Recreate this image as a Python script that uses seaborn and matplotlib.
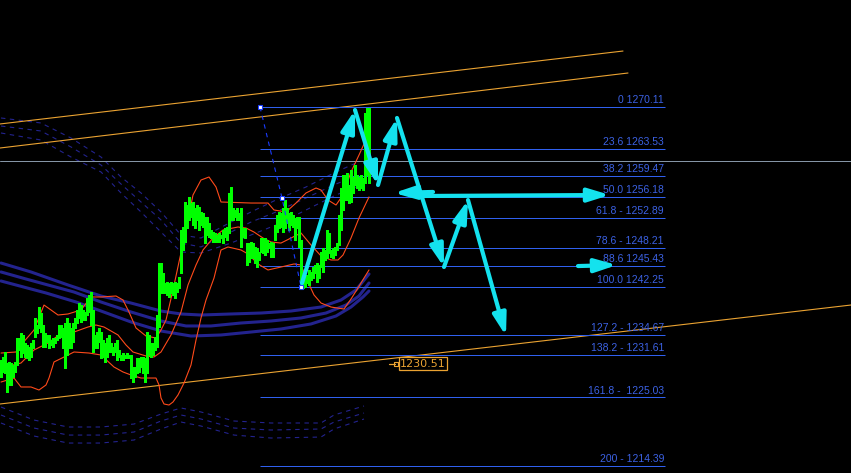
import numpy as np
import pandas as pd
import seaborn as sns
import matplotlib.pyplot as plt

# ---- price bars (high / low per bar) ----
highs = [1230.85, 1231.31, 1232.09, 1230.38, 1230.54, 1230.38, 1230.07, 1230.54, 1234.26, 1234.26,
         1235.03, 1234.73, 1233.49, 1233.18, 1232.87, 1233.49, 1233.95, 1237.37, 1236.28, 1239.08,
         1238.14, 1236.28, 1235.04, 1234.73, 1234.73, 1233.95, 1234.26, 1234.26, 1234.73, 1236.28,
         1236.28, 1235.82, 1236.59, 1237.37, 1236.59, 1235.82, 1236.59, 1237.37, 1238.61, 1239.69,
         1239.38, 1238.61, 1238.30, 1240.47, 1240.94, 1241.40, 1238.61, 1234.73, 1235.19, 1235.82,
         1235.19, 1233.95, 1233.49, 1234.26, 1234.73, 1233.49, 1232.87, 1233.49, 1233.95, 1232.40,
         1231.62, 1231.93, 1231.62, 1231.93, 1231.62,
         1231.62, 1229.76, 1229.76, 1231.16, 1231.16, 1231.31, 1231.31, 1231.16, 1235.19, 1234.73,
         1233.49, 1233.49, 1234.42, 1237.83, 1245.90, 1245.90, 1244.35, 1242.80, 1242.95, 1242.80,
         1242.95, 1242.80, 1242.95, 1242.80, 1243.73, 1251.02, 1251.49, 1255.37, 1254.90, 1256.15,
         1255.21, 1255.37, 1254.44, 1254.90, 1254.59, 1253.82, 1253.66, 1253.04, 1253.04, 1252.11,
         1251.02, 1250.71, 1250.56, 1250.25, 1250.56, 1250.25, 1251.02, 1251.33, 1251.49, 1256.77,
         1257.70, 1254.44, 1254.13, 1254.44, 1253.66, 1254.44, 1251.33, 1251.33, 1249.00, 1249.00,
         1249.16, 1249.00, 1248.39, 1248.23, 1247.61, 1249.78, 1249.78, 1249.78, 1249.47, 1249.00,
         1249.16, 1249.00, 1251.80, 1253.35, 1253.82, 1253.66, 1254.44, 1255.68, 1254.44, 1253.66,
         1253.82, 1253.35, 1252.89, 1253.04, 1253.04, 1249.47, 1243.26, 1243.73, 1244.04, 1244.82,
         1244.51, 1245.28, 1245.59, 1245.90, 1245.59, 1247.61, 1248.23, 1247.92, 1251.02, 1250.56,
         1247.92, 1248.23, 1248.39, 1249.00, 1253.35, 1257.54, 1259.56, 1259.56, 1259.87, 1258.01,
         1260.34, 1259.25, 1261.11, 1259.56, 1259.25, 1259.56, 1259.09, 1269.18, 1269.96, 1269.96]
lows = [1228.21, 1228.99, 1228.83, 1225.88, 1226.97, 1226.97, 1228.21, 1228.99, 1230.07, 1232.40,
        1231.31, 1231.93, 1231.31, 1231.16, 1230.85, 1231.31, 1232.71, 1234.42, 1235.04, 1235.82,
        1235.19, 1232.87, 1232.87, 1233.64, 1232.71, 1233.18, 1232.87, 1233.49, 1233.95, 1234.26,
        1234.42, 1232.71, 1229.61, 1231.62, 1232.71, 1232.71, 1233.64, 1235.82, 1236.59, 1237.37,
        1236.75, 1237.06, 1237.06, 1237.83, 1238.30, 1236.28, 1232.09, 1232.71, 1232.71, 1233.64,
        1231.16, 1231.31, 1230.54, 1231.31, 1232.09, 1232.09, 1231.62, 1232.09, 1230.85, 1231.31,
        1230.85, 1230.85, 1231.16, 1231.16, 1231.16,
        1228.05, 1227.43, 1228.21, 1228.83, 1228.99, 1229.76, 1228.83, 1227.43, 1228.83, 1231.62,
        1231.31, 1231.62, 1232.40, 1232.87, 1235.97, 1241.25, 1241.25, 1241.25, 1240.94, 1240.63,
        1241.25, 1240.94, 1240.47, 1241.40, 1242.02, 1244.35, 1247.92, 1249.16, 1251.33, 1252.58,
        1253.04, 1251.80, 1251.33, 1252.58, 1251.02, 1251.80, 1251.49, 1249.00, 1250.25, 1249.94,
        1249.78, 1249.16, 1249.16, 1249.16, 1249.16, 1249.78, 1249.00, 1249.94, 1249.47, 1250.56,
        1252.58, 1252.58, 1253.04, 1252.58, 1252.58, 1248.39, 1249.94, 1249.78, 1245.59, 1246.06,
        1246.68, 1246.68, 1245.90, 1245.28, 1246.37, 1247.61, 1247.45, 1247.14, 1247.61, 1248.23,
        1246.83, 1246.83, 1249.47, 1250.71, 1251.33, 1251.49, 1250.71, 1251.33, 1252.11, 1251.02,
        1251.80, 1251.49, 1249.47, 1251.33, 1248.39, 1242.18, 1242.02, 1242.18, 1242.80, 1242.49,
        1243.26, 1243.57, 1244.35, 1242.95, 1243.57, 1245.28, 1244.51, 1246.37, 1246.68, 1247.45,
        1246.83, 1246.68, 1247.14, 1247.92, 1248.70, 1251.02, 1254.13, 1255.68, 1255.68, 1255.21,
        1255.37, 1256.77, 1258.01, 1257.54, 1257.23, 1257.54, 1257.23, 1258.32, 1259.56, 1258.32]

# ---- bollinger bands (bar index knots, price) ----
bb_up_x = [0, 7.5, 10, 16.5, 21.5, 25, 28.5, 33.5, 40, 45, 50, 57.5, 61, 64, 67.5, 72.5, 77.5, 80, 82.5, 86,
           89, 92.5, 96, 100, 104, 107.5, 110, 125, 133.5, 136.5, 142.5, 147.5, 152.5, 157.5, 160, 163.5,
           167.5, 171, 175, 179, 184]
bb_up = [1231.93, 1232.09, 1233.18, 1235.50, 1239.38, 1238.61, 1237.83, 1237.99, 1238.61, 1240.63, 1240.63,
         1240.78, 1240.16, 1238.30, 1235.82, 1234.57, 1234.26, 1235.50, 1237.06, 1241.71, 1246.06, 1251.02,
         1256.46, 1258.78, 1259.25, 1257.70, 1255.37, 1255.21, 1255.21, 1254.13, 1253.82, 1255.21, 1256.77,
         1257.54, 1257.23, 1255.68, 1254.90, 1256.46, 1260.03, 1262.66, 1266.08]
bb_mid_x = [0, 10, 16.5, 23.5, 29, 36.5, 43.5, 47.5, 51.5, 58.5, 62.5, 66, 72.5, 76.5, 80, 85, 90, 93.5, 97.5,
            101, 106, 111, 118.5, 122.5, 126.5, 131, 135, 140, 145, 150, 155, 160, 165, 168.5, 171, 175, 179, 184]
bb_mid = [1229.61, 1230.38, 1232.40, 1233.49, 1234.73, 1235.19, 1235.97, 1236.28, 1235.97, 1234.73, 1233.18,
          1232.09, 1231.47, 1231.31, 1232.09, 1234.73, 1238.30, 1242.49, 1245.59, 1247.92, 1249.78, 1251.02,
          1251.49, 1251.33, 1250.71, 1249.78, 1249.16, 1249.00, 1249.78, 1250.56, 1248.70, 1247.00, 1246.37,
          1246.37, 1247.14, 1249.78, 1252.89, 1256.15]
bb_low_x = [0, 6.5, 10, 15, 19, 22.5, 24, 26.5, 31.5, 36.5, 44, 50, 56.5, 61, 65, 70, 77.5, 79, 80, 81.5, 84,
            86, 88.5, 91.5, 95, 97.5, 100, 102.5, 106.5, 110, 113.5, 120, 123.5, 128.5, 133.5, 140, 146.5,
            150, 153.5, 156.5, 160, 165, 171.5, 175, 178.5, 181.5, 184]
bb_low = [1227.43, 1228.05, 1226.66, 1226.66, 1226.19, 1226.97, 1228.05, 1230.54, 1231.31, 1232.09, 1231.93,
          1231.62, 1229.76, 1228.99, 1228.52, 1228.05, 1228.05, 1226.97, 1224.95, 1224.02, 1223.86, 1224.33,
          1225.42, 1227.28, 1230.07, 1233.95, 1237.37, 1240.16, 1243.57, 1247.92, 1248.39, 1247.92, 1247.30,
          1245.75, 1244.82, 1245.28, 1245.75, 1245.59, 1242.95, 1240.94, 1239.69, 1239.07, 1238.76, 1240.31,
          1242.02, 1243.57, 1244.82]

# ---- thick navy moving-average ribbon ----
ma_top_x = [0, 15, 33.5, 50, 65, 80, 90, 100, 115, 130, 145, 160, 170, 177.5, 184]
ma_top = [1245.90, 1244.51, 1242.49, 1240.78, 1239.69, 1238.45, 1237.99, 1237.83, 1237.99, 1238.14,
          1238.45, 1239.07, 1240.16, 1241.71, 1244.20]
ma_mid_x = [0, 12.5, 23.5, 36.5, 50, 65, 80, 92.5, 105, 120, 135, 150, 162.5, 172.5, 179, 184]
ma_mid = [1244.51, 1243.42, 1242.49, 1241.40, 1239.85, 1238.30, 1236.90, 1236.13, 1236.13, 1236.59,
          1236.90, 1237.37, 1238.14, 1239.38, 1240.78, 1242.80]
ma_bot_x = [0, 7.5, 22.5, 37.5, 50, 65, 80, 95, 110, 125, 140, 155, 167.5, 175, 181, 184]
ma_bot = [1243.11, 1242.49, 1241.25, 1239.85, 1238.45, 1236.75, 1235.35, 1234.57, 1234.73, 1235.19,
          1235.66, 1236.44, 1237.68, 1239.07, 1240.63, 1241.56]

# ---- dashed envelopes ----
env_hi_x = [0, 20, 35, 50, 60, 70, 80, 90, 100, 115, 125, 137.5, 152.5, 167.5, 177.5]
env_hi_1 = [1268.41, 1267.63, 1265.30, 1262.35, 1259.25, 1256.77, 1253.82, 1250.25, 1249.78, 1252.26,
            1253.82, 1255.68, 1257.70, 1260.03, 1261.42]
env_hi_2 = [1267.16, 1266.39, 1263.91, 1261.11, 1258.16, 1255.37, 1252.58, 1249.00, 1248.39, 1250.71,
            1252.26, 1253.82, 1255.99, 1258.16, 1259.40]
env_hi_3 = [1266.08, 1264.99, 1262.35, 1260.03, 1256.77, 1253.82, 1250.71, 1247.61, 1247.45, 1249.00,
            1250.25, 1251.80, 1254.13, 1256.46, 1257.70]
env_lo_x = [0, 16.5, 33.5, 50, 66.5, 80, 90, 100, 116.5, 135, 160, 166.5, 181.5]
env_lo_1 = [1223.55, 1221.53, 1220.45, 1220.45, 1220.91, 1222.46, 1223.40, 1222.78, 1221.38, 1221.07,
            1221.07, 1222.31, 1223.71]
env_lo_2 = [1222.31, 1220.29, 1219.20, 1219.20, 1219.67, 1221.38, 1222.31, 1221.69, 1220.29, 1219.98,
            1220.14, 1221.22, 1222.62]
env_lo_3 = [1221.07, 1219.05, 1217.96, 1217.96, 1218.43, 1220.14, 1221.22, 1220.60, 1219.20, 1218.74,
            1218.89, 1220.14, 1221.69]

# ---- trendlines ----
chan_a_x, chan_a = [-0.5, 311], [1267.48, 1278.80]
chan_b_x, chan_b = [-0.5, 313.5], [1263.75, 1275.39]
support_x, support = [-0.5, 425], [1224.02, 1239.38]
hline_price = 1261.73

# ---- fibonacci ----
fib_levels = [1270.11, 1263.53, 1259.47, 1256.18, 1252.89, 1248.21, 1245.43, 1242.25,
              1234.67, 1231.61, 1225.03, 1214.39]
fib_labels = ['0 1270.11', '23.6 1263.53', '38.2 1259.47', '50.0 1256.18', '61.8 - 1252.89',
              '78.6 - 1248.21', '88.6 1245.43', '100.0 1242.25', '127.2 - 1234.67',
              '138.2 - 1231.61', '161.8 -  1225.03', '200 - 1214.39']
fib_start, fib_end = 129.5, 332
fib_pts_x = [129.5, 140.5, 150]
fib_pts = [1270.11, 1255.99, 1242.25]

# ---- projected path (cyan arrows) ----
path_x = [150.5, 177, 188.5, 198, 221.5, 233.5, 252.5]
path_p = [1242.80, 1269.65, 1258.01, 1268.41, 1245.28, 1255.68, 1234.57]
side_arrows = [((216, 1256.93), (196.5, 1256.77)),
               ((208.5, 1256.30), (304.5, 1256.46)),
               ((288.5, 1245.43), (308, 1245.59))]

price_tag = '1230.51'
tag_x, tag_p = 199, 1230.30

sns.set_theme(style='dark', rc={'axes.facecolor': 'black', 'figure.facecolor': 'black'})
plt.rcParams['font.family'] = ['Liberation Sans Narrow', 'Liberation Sans', 'DejaVu Sans']

fig = plt.figure(figsize=(8.51, 4.73), dpi=100)
ax = fig.add_axes([0, 0, 1, 1])
ax.set_facecolor('black')

navy = '#23238e'
red = '#ff4a1a'
orange = '#eba332'
fibblue = '#3060ee'
cyan = '#14e2ee'
thin = 0.8

def line(x, y, **kw):
    sns.lineplot(x=x, y=y, ax=ax, estimator=None, sort=False, legend=False, **kw)

# dashed envelopes
for ys in (env_hi_1, env_hi_2, env_hi_3):
    line(env_hi_x, ys, color=navy, lw=thin, linestyle=(0, (4, 4)))
for ys in (env_lo_1, env_lo_2, env_lo_3):
    line(env_lo_x, ys, color=navy, lw=thin, linestyle=(0, (4, 4)))

# thick ribbon
for xs, ys in ((ma_top_x, ma_top), (ma_mid_x, ma_mid), (ma_bot_x, ma_bot)):
    line(xs, ys, color=navy, lw=2.2)

# trendlines
line(chan_a_x, chan_a, color=orange, lw=thin)
line(chan_b_x, chan_b, color=orange, lw=thin)
line(support_x, support, color=orange, lw=thin)
ax.axhline(hline_price, color='#8595a6', lw=0.72, snap=True)

# fib levels
ax.hlines(fib_levels, fib_start, fib_end, color=fibblue, lw=0.72, snap=True)
for lvl, lab in zip(fib_levels, fib_labels):
    ax.text(fib_end - 0.5, lvl + 0.3, lab, color='#3c62e4', fontsize=7.5, ha='right', va='bottom')

# bollinger bands
line(bb_up_x, bb_up, color=red, lw=thin)
line(bb_mid_x, bb_mid, color=red, lw=thin)
line(bb_low_x, bb_low, color=red, lw=thin)

# bars
bars = pd.DataFrame({'i': np.arange(len(highs)), 'high': highs, 'low': lows})
ax.vlines(bars['i'], bars['low'], bars['high'], color='#00ff00', lw=0.75, antialiased=False)

# fib anchor line
line(fib_pts_x, fib_pts, color='#1a3cff', lw=thin, linestyle=(0, (4, 4)))
ax.scatter(fib_pts_x, fib_pts, marker='s', s=12, facecolor='white', edgecolor='#1a3cff', lw=0.8, zorder=6)

# cyan projection arrows
arrow_kw = dict(arrowstyle='-|>,head_length=1.3,head_width=0.4', color=cyan,
                lw=3.0, mutation_scale=10, shrinkA=0, shrinkB=0)
for k in range(len(path_x) - 1):
    ax.annotate('', xy=(path_x[k + 1], path_p[k + 1]), xytext=(path_x[k], path_p[k]),
                arrowprops=arrow_kw, zorder=7)
for (x0, y0), (x1, y1) in side_arrows:
    ax.annotate('', xy=(x1, y1), xytext=(x0, y0), arrowprops=arrow_kw, zorder=7)

# price tag
ax.plot([tag_x - 5, tag_x - 2], [tag_p, tag_p], color=orange, lw=0.9)
ax.scatter([tag_x - 1.5], [tag_p], marker='s', s=10, facecolor='black', edgecolor=orange, lw=0.8)
ax.text(tag_x + 0.5, tag_p, price_tag, color=orange, fontsize=8, ha='left', va='center',
        family=['DejaVu Sans'],
        bbox=dict(boxstyle='square,pad=0.12', facecolor='black', edgecolor=orange, lw=0.9))

ax.set_xlim(-0.5, 425)
ax.set_ylim(1213.31, 1286.72)
ax.set_axis_off()

fig.savefig('out.png', dpi=100, facecolor='black')
